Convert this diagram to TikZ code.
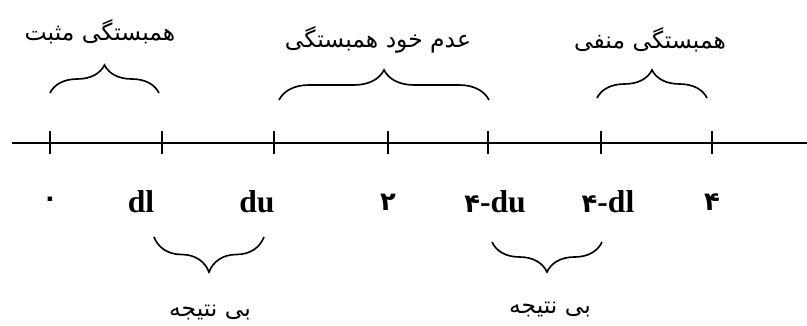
\documentclass[tikz,border=0pt]{standalone}
\usepackage{fontspec}
\setmainfont{Liberation Serif}
\newfontfamily\farsifont[Script=Arabic]{DejaVu Sans}
\TeXXeTstate=1
\usetikzlibrary{calc,decorations.pathreplacing}
\tikzset{
    axis/.style={line width=2.2pt},
    tickmark/.style={line width=2.2pt},
    brc/.style={decorate, decoration={brace, amplitude=#1}, line width=1.4pt},
    lbl/.style={font=\fontsize{27}{30}\selectfont\bfseries, inner sep=0},
    fa/.style={font=\farsifont\fontsize{20}{24}\selectfont, inner sep=0},
}
\newcommand{\fadigit}[1]{{\farsifont\bfseries\fontsize{22}{24}\selectfont #1}}

\begin{document}
\begin{tikzpicture}[x=0.03cm, y=0.03cm]
    \useasboundingbox (0,0) rectangle (807,325);

    % axis and ticks
    \coordinate (lft) at (12,182);
    \coordinate (rgt) at (807,182);
    \draw[axis] (lft) -- (rgt);
    \foreach \n/\x in {t0/50, t1/162, t2/274, t3/388, t4/488, t5/601, t6/712}
        \coordinate (\n) at (\x,182);
    \foreach \n in {t0,t1,t2,t3,t4,t5,t6}
        \draw[tickmark] ($(\n)+(0,12)$) -- ($(\n)+(0,-11)$);

    % values under the axis
    \node[lbl] (l0) at (50,123) {\fadigit{۰}};
    \node[lbl] (l1) at (141,123) {dl};
    \node[lbl] (l2) at (257,123) {du};
    \node[lbl] (l3) at (388,123) {\fadigit{۲}};
    \node[lbl] (l4) at (495,123) {\fadigit{۴}-du};
    \node[lbl] (l5) at (608,123) {\fadigit{۴}-dl};
    \node[lbl] (l6) at (712,123) {\fadigit{۴}};

    % braces above
    \coordinate (pa) at (50,232);  \coordinate (pb) at (159,232);
    \coordinate (na) at (279,225); \coordinate (nb) at (489,225);
    \coordinate (ma) at (597,227); \coordinate (mb) at (707,227);
    \draw[brc=0.84cm] (pa) -- (pb);
    \draw[brc=0.9cm] (na) -- (nb);
    \draw[brc=0.84cm] (ma) -- (mb);
    \node[fa] (pos) at (100,293) {\beginR همبستگی مثبت\endR};
    \node[fa] (none) at (378,285) {\beginR عدم خود همبستگی\endR};
    \node[fa] (neg) at (650,285) {\beginR همبستگی منفی\endR};

    % braces below
    \coordinate (ua) at (264,88); \coordinate (ub) at (154,88);
    \coordinate (va) at (602,83); \coordinate (vb) at (492,83);
    \draw[brc=1.05cm] (ua) -- (ub);
    \draw[brc=0.9cm] (va) -- (vb);
    \node[fa] (inc1) at (210,13) {\beginR بی نتیجه\endR};
    \node[fa] (inc2) at (550,16) {\beginR بی نتیجه\endR};
\end{tikzpicture}
\end{document}
